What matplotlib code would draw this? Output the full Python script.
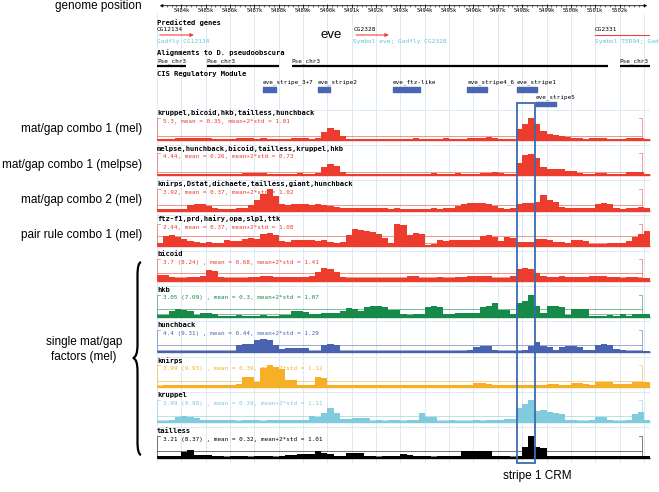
import numpy as np
import matplotlib.pyplot as plt
from matplotlib.path import Path
from matplotlib.patches import PathPatch, Rectangle

W, H = 659, 492
KB0, KB1 = 5483.0, 5503.25      # genomic span of the tracks (kb)
KBR = 5502.92                   # right bracket of the track boxes
X0, X1 = 157, 650               # pixel span of the tracks
STEP = 0.25                     # bin size (kb)

# ---- header features (kb) ----
ruler_ticks = list(range(5484, 5503))
genes = ['CG12134', 'CG2328', 'CG2331']
gene_start = [5483.0, 5491.06, 5500.99]
gene_end = [5484.63, 5492.64, 5503.25]
gene_note = ['Gadfly CG12134', 'Symbol eve; Gadfly CG2328', 'Symbol TER94; Gad']
gene_arrow = [True, True, False]
pse_start = [5483.0, 5485.04, 5488.53, 5502.01]
pse_end = [5484.19, 5488.02, 5501.53, 5503.25]
crm_names = ['eve_stripe_3+7', 'eve_stripe2', 'eve_ftz-like', 'eve_stripe4_6', 'eve_stripe1', 'eve_stripe5']
crm_start = [5487.35, 5489.61, 5492.68, 5495.74, 5497.77, 5498.56]
crm_end = [5487.89, 5490.10, 5493.80, 5496.56, 5498.59, 5499.39]
hl_start, hl_end = 5497.77, 5498.52

# ---- tracks ----
track_names = ['kruppel,bicoid,hkb,tailless,hunchback',
               'melpse,hunchback,bicoid,tailless,kruppel,hkb',
               'knirps,Dstat,dichaete,tailless,giant,hunchback',
               'ftz-f1,prd,hairy,opa,slp1,ttk',
               'bicoid', 'hkb', 'hunchback', 'knirps', 'kruppel', 'tailless']
track_max = [5.3, 4.44, 3.92, 2.44, 3.7, 3.05, 4.4, 3.99, 3.99, 3.21]
track_raw = [None, None, None, None, 8.24, 7.09, 9.31, 9.93, 9.98, 8.37]
track_mean = [0.35, 0.26, 0.37, 0.37, 0.68, 0.3, 0.44, 0.39, 0.39, 0.32]
track_thr = [1.01, 0.73, 1.02, 1.08, 1.41, 1.07, 1.29, 1.12, 1.11, 1.01]
track_colors = ['#eb3c2d'] * 5 + ['#168a48', '#4a63b0', '#f6b027', '#80cbdc', '#000000']
left_labels = ['mat/gap combo 1 (mel)', 'mat/gap combo 1 (melpse)',
               'mat/gap combo 2 (mel)', 'pair rule combo 1 (mel)']

combo1_mel = [0.3, 0.3, 0.35, 0.5, 0.55, 0.5, 0.45, 0.5, 0.45, 0.3, 0.25, 0.3, 0.3,
              0.4, 0.45, 0.4, 0.35, 0.4, 0.3, 0.3, 0.25, 0.3, 0.4, 0.45, 0.4, 0.35, 0.6,
              2.0, 2.9, 2.5, 0.9,
              0.3, 0.35, 0.3, 0.3, 0.25, 0.3, 0.3, 0.35, 0.3, 0.3, 0.35, 0.4, 0.35, 0.3,
              0.3, 0.35, 0.4, 0.35, 0.3, 0.35, 0.4, 0.45,
              0.6, 0.65, 0.55, 0.35, 0.3, 0.3,
              2.6, 3.8, 5.3, 3.9, 2.2, 1.4, 1.15, 1.0, 0.7, 0.5,
              0.4, 0.35, 0.4, 0.55, 0.5, 0.3, 0.3, 0.35, 0.4, 0.5, 0.45, 0.2]
combo1_melpse = [0.2, 0.25, 0.3, 0.3, 0.25, 0.2, 0.25, 0.3, 0.25, 0.2, 0.25, 0.3, 0.3, 0.35,
                 0.5, 0.55, 0.5, 0.45,
                 0.3, 0.3, 0.35, 0.3, 0.35, 0.4, 0.35, 0.3, 0.5,
                 1.6, 2.3, 1.9, 0.6,
                 0.25, 0.3, 0.3, 0.25, 0.3, 0.35, 0.3, 0.25, 0.3, 0.3, 0.35, 0.3, 0.3, 0.35,
                 0.4, 0.3, 0.3, 0.35, 0.4, 0.35, 0.3, 0.35,
                 0.5, 0.55, 0.6, 0.45, 0.3, 0.3,
                 2.4, 4.0, 4.3, 3.4, 1.7, 1.3, 1.3, 1.2, 0.8, 0.8, 0.5, 0.35,
                 0.3, 0.5, 0.5, 0.3, 0.25, 0.3, 0.6, 0.7, 0.6, 0.2]
combo2_mel = [0.2, 0.25, 0.3, 0.3, 0.35, 1.0, 1.1, 1.1, 0.9,
              0.4, 0.35, 0.3, 0.35, 0.4,
              0.5, 1.0, 1.9, 2.9, 3.9, 2.6, 1.1,
              1.0, 1.1, 1.2, 1.1, 1.0, 1.2, 1.0, 0.8,
              0.6, 0.55, 0.5, 0.5,
              0.45, 0.4, 0.45, 0.5, 0.4, 0.35, 0.4, 0.3, 0.35, 0.3, 0.3, 0.35, 0.4, 0.35, 0.4, 0.5,
              0.9, 1.2, 1.3, 1.4, 1.3, 1.2, 0.8,
              0.4, 0.35, 0.45,
              1.2, 1.3, 1.4, 1.5, 2.8, 1.8, 1.5,
              0.6, 0.5, 0.5, 0.55, 0.5, 0.45,
              1.2, 1.4, 1.1,
              0.4, 0.35, 0.4, 0.45, 0.6, 0.5]
pairrule1_mel = [0.3, 1.1, 1.2, 1.0, 0.8, 0.5, 0.4, 0.35, 0.4, 0.35, 0.3,
                 0.6, 0.55, 0.5, 0.8, 0.85, 0.8, 1.3, 1.4, 1.2, 0.5, 0.4,
                 0.6, 0.65, 0.7, 0.6, 0.55, 0.6, 0.4, 0.35, 0.4,
                 1.2, 1.9, 1.8, 1.7, 1.5, 1.3, 0.9, 0.3,
                 2.44, 2.3, 1.2, 1.4, 1.35, 0.15, 0.2,
                 0.6, 0.55, 0.6, 0.6, 0.7, 0.7, 0.6, 1.1, 1.2, 1.0, 0.5, 1.0, 0.9,
                 0.4, 0.45, 0.4, 0.8, 0.8, 0.7, 0.4, 0.4, 0.35, 0.6, 0.65, 0.55,
                 0.25, 0.2, 0.25, 0.3, 0.3, 0.35, 0.5, 1.0, 1.3, 1.6]
bicoid = [1.1, 1.0, 0.7, 0.6, 0.6, 0.65, 0.7, 0.8, 1.8, 1.7,
          0.7, 0.6, 0.6, 0.55, 0.6, 0.7, 0.75, 0.9, 0.9,
          0.7, 0.75, 0.7, 0.7, 0.75, 0.7, 0.9,
          1.6, 2.2, 2.1, 1.5,
          0.7, 0.6, 0.55, 0.6, 0.6, 0.55, 0.5,
          0.5, 0.5, 0.55, 0.5, 0.8, 0.85,
          0.6, 0.55, 0.6, 0.65, 0.6, 0.6, 0.65, 0.7,
          0.8, 0.9, 0.95, 0.85, 0.6, 0.55, 0.6, 0.9,
          2.1, 2.2, 2.1, 1.4,
          0.8, 0.7, 0.75, 0.8, 0.7, 0.65, 0.7, 0.75, 0.8, 0.9, 0.85, 0.7, 0.65, 0.6,
          0.65, 0.7, 0.6, 0.55]
hkb = [0.2, 0.25, 0.8, 1.0, 0.95, 0.7, 0.2, 0.45, 0.45, 0.4,
       0.1, 0.1, 0.1, 0.15, 0.1, 0.1, 0.1, 0.15, 0.1, 0.1, 0.15, 0.2,
       0.7, 0.7, 0.65, 0.3, 0.3, 0.5, 0.5, 0.45,
       0.8, 1.15, 1.1, 0.7, 1.3, 1.4, 1.5, 1.3, 0.9, 0.9,
       0.3, 0.25, 0.35, 0.3, 1.3, 1.4, 1.3, 0.3, 0.3, 0.45, 0.45, 0.5, 0.5,
       1.3, 1.5, 1.85, 0.9, 0.85, 0.3,
       1.9, 2.1, 3.05, 1.4, 0.5, 1.4, 1.4, 1.3, 0.2, 1.1, 1.1, 1.0,
       0.1, 0.1, 0.1, 0.15, 0.1, 0.3, 0.1, 0.4, 0.4, 0.3]
hunchback = [0.2, 0.2, 0.2, 0.15, 0.2, 0.2, 0.2, 0.2, 0.2, 0.25, 0.2, 0.2, 0.25,
             1.3, 1.5, 1.6, 2.4, 2.6, 2.3, 1.4, 0.6, 0.8, 0.85, 0.8, 0.7, 0.2, 0.2,
             1.4, 1.5, 1.3,
             0.15, 0.15, 0.2, 0.15, 0.15, 0.15, 0.2, 0.15, 0.15, 0.15, 0.2, 0.15,
             0.15, 0.15, 0.2, 0.15, 0.15, 0.15, 0.2, 0.15, 0.2, 0.3,
             1.0, 1.2, 1.1, 0.3, 0.25, 0.2, 0.15, 0.15, 0.3,
             1.1, 2.0, 1.2, 0.9, 0.4, 1.0, 1.15, 1.1, 0.9, 0.45, 0.4,
             1.3, 1.5, 1.3, 0.5, 0.45, 0.15, 0.15, 0.15, 0.15]
knirps = [0.2, 0.4, 0.45, 0.4, 0.4, 0.35, 0.4, 0.45, 0.4, 0.35, 0.4, 0.4, 0.45, 0.5,
          1.8, 1.9, 1.0, 3.5, 3.99, 3.7, 3.2, 1.2, 1.2, 0.4, 0.4, 0.45, 1.8, 1.7,
          0.4, 0.35, 0.35, 0.4, 0.35, 0.35, 0.4, 0.35, 0.3, 0.35, 0.35, 0.4,
          0.35, 0.4, 0.35, 0.35, 0.4, 0.4, 0.35, 0.4, 0.45, 0.4, 0.4, 0.45,
          0.7, 0.75, 0.65, 0.4, 0.4, 0.35, 0.4, 0.35, 0.35, 0.4, 0.4, 0.45,
          0.6, 0.6, 0.45, 0.4, 0.7, 0.7, 0.65, 0.45, 1.0, 1.0, 0.95,
          0.5, 0.55, 0.6, 0.9, 0.95, 0.9]
kruppel = [0.3, 0.3, 0.35, 1.0, 1.1, 1.0, 0.8,
           0.4, 0.4, 0.35, 0.4, 0.4, 0.35, 0.3, 0.35, 0.4, 0.35, 0.3, 0.35, 0.4, 0.4,
           0.45, 0.4, 0.45, 0.5,
           1.1, 1.0, 1.7, 2.6, 1.7, 0.6, 0.6, 0.8, 0.85, 0.75,
           0.3, 0.35, 0.3, 0.35, 0.35, 0.3, 0.4, 0.5, 1.7, 1.0, 0.9,
           0.3, 0.3, 0.35, 0.3, 0.3, 0.3, 0.35, 0.3, 0.35, 0.4, 0.5, 0.6, 0.7,
           2.6, 3.3, 3.99, 2.0, 2.2, 1.8, 1.7, 1.6,
           0.4, 0.35, 0.3, 0.3, 0.35, 1.0, 1.0, 0.35, 0.3, 0.3, 0.4, 1.6, 1.8, 0.4]
tailless = [0.25, 0.25, 0.3, 0.3, 0.8, 1.1, 0.45, 0.4, 0.4,
            0.2, 0.2, 0.15, 0.2, 0.2, 0.2, 0.15, 0.2, 0.2, 0.2, 0.15, 0.2,
            0.35, 0.35, 0.5, 0.5, 0.55, 1.0, 0.65, 0.6, 0.2, 0.2, 0.75, 0.75, 0.7,
            0.2, 0.2, 0.15, 0.2, 0.2, 0.2, 0.6, 0.4,
            0.2, 0.2, 0.2, 0.15, 0.2, 0.2, 0.2, 0.2,
            1.05, 1.05, 1.0, 1.05, 1.0, 0.2, 0.2, 0.2, 0.15, 0.2,
            1.6, 3.21, 1.6, 1.4,
            0.3, 0.3, 0.3, 0.25, 0.2, 0.2, 0.25, 0.2, 0.2, 0.2, 0.2, 0.25, 0.2,
            0.2, 0.2, 0.25, 0.2]
track_values = [combo1_mel, combo1_melpse, combo2_mel, pairrule1_mel,
                bicoid, hkb, hunchback, knirps, kruppel, tailless]

MONO = 'DejaVu Sans Mono'
SANS = 'Liberation Sans'
GENE_RED = '#e8463a'
NOTE_BLUE = '#62c2d3'
CRM_BLUE = '#4a66b2'
GRID = '#dce9f5'


def fbox(x0, y0, x1, y1):
    # pixel box (origin top-left) -> figure fraction rect
    return [x0 / W, 1 - y1 / H, (x1 - x0) / W, (y1 - y0) / H]


fig = plt.figure(figsize=(W / 100, H / 100), dpi=100)
bg = fig.add_axes([0, 0, 1, 1])
bg.set_xlim(0, W)
bg.set_ylim(H, 0)
bg.axis('off')

gx = fig.add_axes(fbox(X0, 0, X1, H))
gx.set_xlim(KB0, KB1)
gx.set_ylim(H, 0)
gx.axis('off')
gx.patch.set_alpha(0)

track_top = [113 + 35.3 * i for i in range(len(track_names))]

# light grid
gx.vlines(np.arange(5483, 5504), 13, 462, color=GRID, lw=0.7, zorder=0)
gx.hlines([t - 3.5 for t in track_top], KB0, KB1, color=GRID, lw=0.7, zorder=0)

# ruler
gx.annotate('', xy=(KB1, 5.7), xytext=(KB0, 5.7),
            arrowprops=dict(arrowstyle='<|-|>', lw=0.6, color='black', mutation_scale=4))
minor = np.arange(KB0 + 0.2, KB1 - 0.1, 0.2)
gx.vlines(minor, 4.5, 6.9, color='black', lw=0.4)
gx.vlines(ruler_ticks, 4.2, 8.0, color='black', lw=0.5)
for t in ruler_ticks:
    gx.text(t, 11, '%dk' % t, fontsize=4, family=MONO, ha='center', va='center')

# predicted genes
gx.text(KB0, 22.7, 'Predicted genes', fontsize=5.1, family=MONO, weight='bold', va='center')
for name, s, e, note, arr in zip(genes, gene_start, gene_end, gene_note, gene_arrow):
    gx.text(s, 29.3, name, fontsize=4.4, family=MONO, va='center')
    if arr:
        gx.annotate('', xy=(e, 35), xytext=(s, 35),
                    arrowprops=dict(arrowstyle='-|>', lw=0.8, color=GENE_RED, mutation_scale=5))
    else:
        gx.plot([s, e], [35, 35], color=GENE_RED, lw=0.8)
    gx.text(s, 41.7, note, fontsize=4.4, family=MONO, va='center', color=NOTE_BLUE)
gx.text(5490.17, 35, 'eve', fontsize=9.5, family=SANS, ha='center', va='center')

# alignments
gx.text(KB0, 52.7, 'Alignments to D. pseudoobscura', fontsize=5.1, family=MONO,
        weight='bold', va='center')
for s, e in zip(pse_start, pse_end):
    gx.text(s, 61, 'Pse_chr3', fontsize=4.3, family=MONO, va='center')
    gx.plot([s, e], [65.7, 65.7], color='black', lw=1.6, solid_capstyle='butt')

# CRMs
gx.text(KB0, 74.3, 'CIS Regulatory Module', fontsize=5.1, family=MONO, weight='bold', va='center')
for i, (name, s, e) in enumerate(zip(crm_names, crm_start, crm_end)):
    if name == 'eve_stripe5':
        gx.text(s, 97.3, name, fontsize=4.3, family=MONO, va='center')
        gx.broken_barh([(s, e - s)], (101.5, 4.5), color=CRM_BLUE)
    else:
        gx.text(s, 82.3, name, fontsize=4.3, family=MONO, va='center')
        gx.broken_barh([(s, e - s)], (86.7, 5), color=CRM_BLUE)

# tracks
edges = KB0 + STEP * np.arange(len(combo1_mel) + 1)
for i, name in enumerate(track_names):
    L = track_top[i]
    c = track_colors[i]
    vmax = track_max[i]
    vals = np.minimum(np.array(track_values[i]), vmax)
    gx.text(KB0, L, name, fontsize=5.1, family=MONO, weight='bold', va='center')
    if track_raw[i] is None:
        stat = '%s, mean = %s, mean+2*std = %s' % (vmax, track_mean[i], track_thr[i])
    else:
        stat = '%s (%s) , mean = %s, mean+2*std = %s' % (vmax, track_raw[i], track_mean[i], track_thr[i])
    gx.text(KB0 + 0.25, L + 8.5, stat, fontsize=4.3, family=MONO, va='center', color=c)

    ax = fig.add_axes(fbox(X0, L + 5, X1, L + 27))
    ax.set_xlim(KB0, KB1)
    ax.set_ylim(0, vmax)
    ax.axis('off')
    ax.patch.set_alpha(0)
    ax.fill_between(edges, np.r_[vals, vals[-1]], step='post', color=c, lw=0)
    ax.hlines([track_mean[i], track_thr[i]], KB0, KBR, color=c, lw=0.7, alpha=0.55)
    ax.hlines(0, KB0, KB1, color=c, lw=1.0, clip_on=False)
    ax.plot([KB0 + 0.12, KB0, KB0, KB0 + 0.12], [vmax, vmax, 0, 0], color=c, lw=0.6,
            alpha=0.6, clip_on=False)
    ax.plot([KBR - 0.12, KBR, KBR], [vmax, vmax, 0], color=c, lw=0.6, alpha=0.6, clip_on=False)

# highlight of stripe 1 CRM
ov = fig.add_axes(fbox(X0, 0, X1, H))
ov.set_xlim(KB0, KB1)
ov.set_ylim(H, 0)
ov.axis('off')
ov.patch.set_alpha(0)
ov.add_patch(Rectangle((hl_start, 103.3), hl_end - hl_start, 359.4, fill=False,
                       ec='#3a6cae', lw=1.3))

# left-hand annotation
bg.text(142, 6.5, 'genome position', fontsize=8.5, family=SANS, ha='right', va='center')
for i, lab in enumerate(left_labels):
    bg.text(142, track_top[i] + 16.3, lab, fontsize=8.5, family=SANS, ha='right', va='center')
bg.text(84, 349.5, 'single mat/gap\nfactors (mel)', fontsize=8.5, family=SANS,
        ha='center', va='center', linespacing=1.3)
verts = [(141, 262), (137.5, 263), (137.5, 275), (137.5, 345), (137.5, 357), (133, 358),
         (137.5, 359), (137.5, 371), (137.5, 442), (137.5, 454), (141, 455)]
codes = [Path.MOVETO, Path.CURVE3, Path.CURVE3, Path.LINETO, Path.CURVE3, Path.CURVE3,
         Path.CURVE3, Path.CURVE3, Path.LINETO, Path.CURVE3, Path.CURVE3]
bg.add_patch(PathPatch(Path(verts, codes), fill=False, lw=1.6, ec='black'))
bg.text(537, 476, 'stripe 1 CRM', fontsize=8.5, family=SANS, ha='center', va='center')

fig.savefig('out.png', dpi=100)
